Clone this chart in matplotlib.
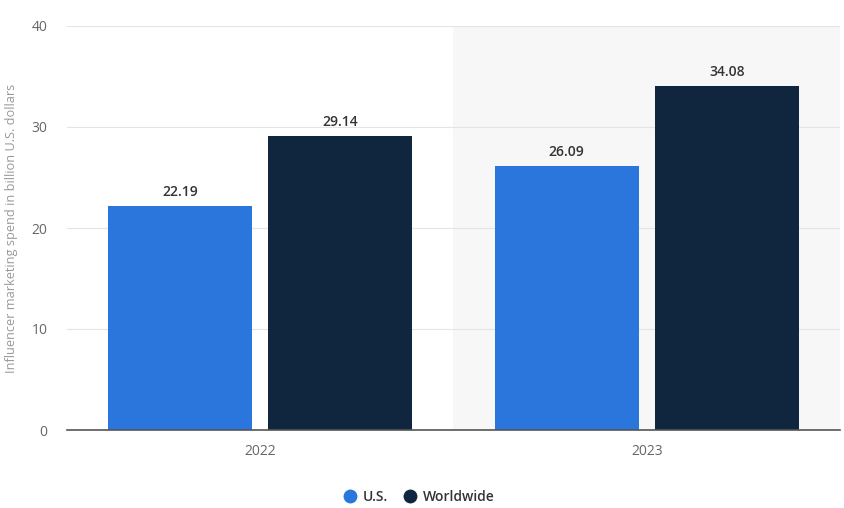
import matplotlib
matplotlib.use("Agg")
import matplotlib.pyplot as plt
import numpy as np
from matplotlib.lines import Line2D

years = ["2022", "2023"]
us = [22.19, 26.09]
worldwide = [29.14, 34.08]
series_names = ["U.S.", "Worldwide"]
colors = ["#2a76dd", "#10263f"]

plt.rcParams['font.family'] = ['Open Sans', 'DejaVu Sans']

fig = plt.figure(figsize=(8.45, 5.08), dpi=100)
ax = fig.add_axes([67/845, 78/508, 773/845, 404/508])

x = np.arange(len(years))
off = 0.207
w = 0.373

ax.axvspan(0.5, 1.5, color="#f7f7f7", zorder=0, lw=0)

for vals, o, c in [(us, -off, colors[0]), (worldwide, off, colors[1])]:
    bars = ax.bar(x + o, vals, width=w, color=c, zorder=3)
    for b, v in zip(bars, vals):
        ax.text(b.get_x() + b.get_width()/2, v + 0.7, f"{v:.2f}", ha="center", va="bottom",
                fontsize=10, color="#333333", fontweight="semibold", zorder=4)

ax.set_xlim(-0.5, 1.5)
ax.set_ylim(0, 40)
ax.set_yticks([0, 10, 20, 30, 40])
ax.set_xticks(x)
ax.set_xticklabels(years)
ax.grid(axis="y", color="#e4e4e4", lw=0.8, zorder=1)
ax.set_axisbelow(True)
for s in ["top", "right", "left"]:
    ax.spines[s].set_visible(False)
ax.spines["bottom"].set_color("#555555")
ax.spines["bottom"].set_linewidth(1.2)
ax.spines["bottom"].set_zorder(5)
ax.tick_params(axis="both", length=0, labelsize=10, labelcolor="#666666")
ax.tick_params(axis="y", pad=14)
ax.tick_params(axis="x", pad=10)
ax.set_ylabel("Influencer marketing spend in billion U.S. dollars", fontsize=9.2, color="#999999")
ax.yaxis.set_label_coords(-0.064, 0.5)

handles = [Line2D([0], [0], marker="o", color="w", markerfacecolor=c, markersize=11, lw=0) for c in colors]
leg = fig.legend(handles, series_names, loc="center", bbox_to_anchor=(418/845, 1 - 497/508), ncol=2,
                 frameon=False, fontsize=10, handletextpad=0.3, columnspacing=1.0, handlelength=1.2)
for t in leg.get_texts():
    t.set_color("#333333")
    t.set_fontweight("semibold")

fig.savefig("out.png", dpi=100, facecolor="white")
